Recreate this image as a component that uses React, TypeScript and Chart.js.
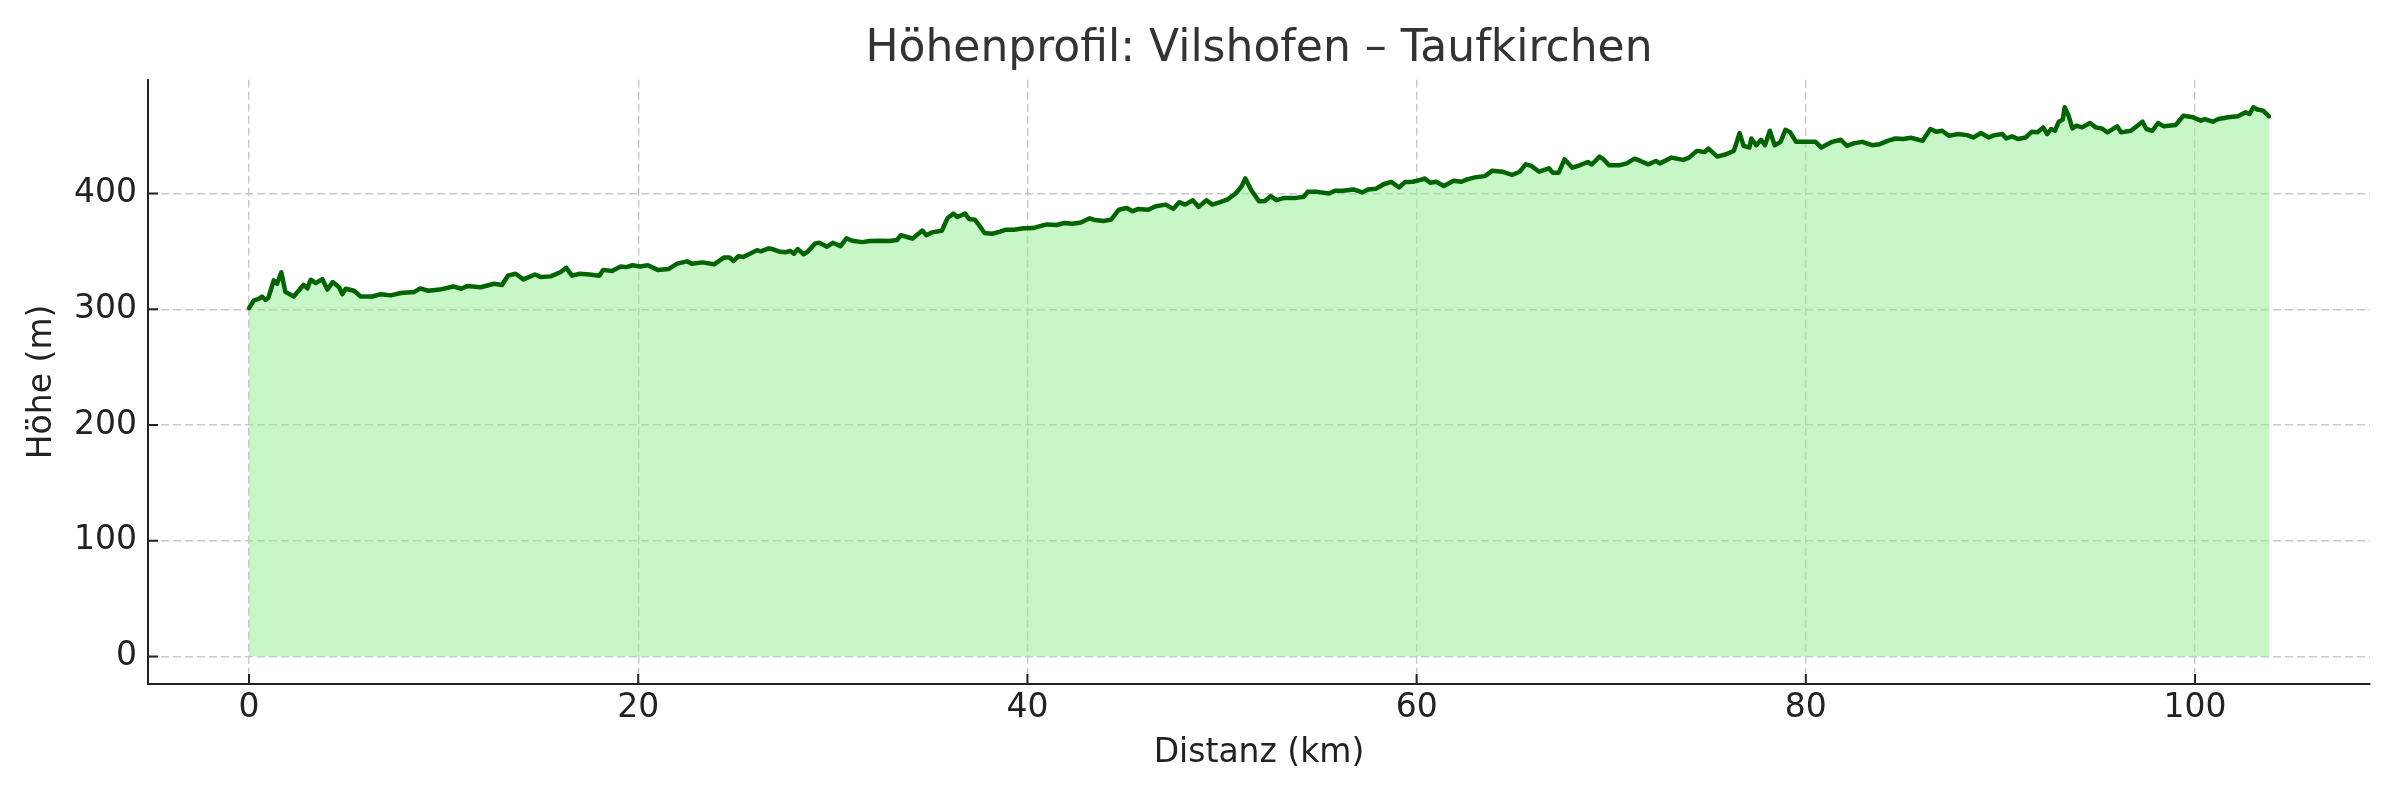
import React, { useEffect, useRef } from 'react';
import { Chart, registerables } from 'chart.js';

Chart.register(...registerables);

const chartTitle = 'Höhenprofil: Vilshofen – Taufkirchen';
const xLabel = 'Distanz (km)';
const yLabel = 'Höhe (m)';

// Distanz in km, Höhe in m
const distanceKm = [
  0, 0.24, 0.5, 0.67, 0.85, 1.0, 1.27, 1.44, 1.66, 1.87, 2.3, 2.8, 3.0, 3.17, 3.43, 3.77, 4.03, 4.3, 4.63, 4.8,
  4.97, 5.4, 5.74, 6.34, 6.77, 7.28, 7.8, 8.5, 8.8, 9.2, 9.8, 10.5, 10.9, 11.2, 11.9, 12.6, 13.0, 13.3, 13.7, 14.1,
  14.7, 15.0, 15.5, 16.0, 16.3, 16.6, 17.0, 17.5, 18.0, 18.2, 18.65, 19.1, 19.4, 19.7, 20.1, 20.5, 21.0, 21.55, 22.0, 22.5,
  22.75, 23.3, 23.9, 24.4, 24.7, 24.9, 25.15, 25.4, 26.1, 26.3, 26.7, 26.9, 27.3, 27.6, 27.8, 28.0, 28.2, 28.5, 28.7, 29.1,
  29.3, 29.7, 30.0, 30.4, 30.7, 31.0, 31.5, 31.9, 32.4, 32.9, 33.3, 33.5, 33.9, 34.1, 34.6, 34.8, 35.1, 35.6, 35.9, 36.2,
  36.4, 36.8, 37.0, 37.3, 37.5, 37.8, 38.2, 38.6, 38.9, 39.3, 39.8, 40.3, 40.6, 41.0, 41.5, 41.9, 42.3, 42.75, 43.2, 43.4,
  43.9, 44.3, 44.7, 45.1, 45.4, 45.7, 46.2, 46.6, 47.1, 47.5, 47.8, 48.1, 48.5, 48.8, 49.2, 49.5, 49.9, 50.3, 50.7, 51.0,
  51.2, 51.5, 51.9, 52.2, 52.5, 52.8, 53.2, 53.8, 54.2, 54.4, 54.9, 55.5, 55.8, 56.2, 56.75, 57.2, 57.5, 57.9, 58.3, 58.7,
  59.1, 59.4, 59.8, 60.3, 60.4, 60.7, 61.0, 61.4, 61.9, 62.3, 62.6, 63.0, 63.5, 63.9, 64.4, 64.9, 65.3, 65.6, 65.9, 66.3,
  66.8, 67.0, 67.3, 67.6, 68.0, 68.3, 68.8, 69.0, 69.4, 69.6, 69.9, 70.4, 70.8, 71.2, 71.5, 71.9, 72.3, 72.5, 73.1, 73.7,
  74.0, 74.4, 74.8, 75.0, 75.45, 75.9, 76.3, 76.6, 76.8, 77.1, 77.2, 77.45, 77.7, 77.9, 78.15, 78.4, 78.7, 78.95, 79.2, 79.5,
  80.0, 80.5, 80.8, 81.35, 81.8, 82.1, 82.5, 82.9, 83.4, 83.8, 84.2, 84.6, 85.0, 85.4, 86.0, 86.4, 86.7, 87.0, 87.35, 87.8,
  88.3, 88.6, 89.0, 89.4, 89.7, 90.1, 90.3, 90.6, 90.9, 91.3, 91.6, 91.9, 92.2, 92.4, 92.6, 92.8, 93.0, 93.2, 93.3, 93.5,
  93.7, 93.9, 94.2, 94.6, 94.9, 95.2, 95.5, 96.0, 96.2, 96.7, 97.0, 97.3, 97.5, 97.8, 98.1, 98.4, 99.0, 99.4, 99.9, 100.3,
  100.5, 100.9, 101.2, 101.7, 102.2, 102.6, 102.8, 103.0, 103.2, 103.5, 103.8,
];

const elevationM = [
  301, 307.5, 309, 311, 308, 310, 325, 322, 332, 315, 311, 321, 318, 325.5, 322.6, 326, 317, 323.5, 319, 313,
  317.7, 316, 311, 311, 313, 312, 314, 315, 318, 316, 317, 319.7, 317.7, 320, 319, 322, 321, 329, 330.7, 325.8,
  330, 327.8, 328.4, 332, 335.7, 329, 330.7, 330, 328.9, 334, 333, 337, 336.4, 338, 337, 338, 334, 334.7, 339.4, 341.4,
  339.4, 340.5, 338.8, 344.6, 344.6, 341.7, 345.8, 345.2, 351, 350, 352.5, 352, 349.6, 349.3, 350.4, 348, 352, 347.5, 349.6, 356.9,
  357.4, 354, 357.4, 354.5, 361.2, 359.2, 358, 358.9, 359.2, 358.9, 359.8, 364, 362, 361, 368, 364, 366.4, 367.8, 378.8, 382.6,
  379.7, 382.6, 378, 377.4, 373, 365.8, 365.2, 367, 368.7, 368.7, 369.9, 370.1, 371.6, 373.3, 372.8, 374.5, 373.9, 375, 378.6, 377.4,
  376.2, 377.4, 386, 387.5, 384.6, 386.7, 386, 389, 390.4, 386.7, 392.5, 390.4, 394.2, 388.4, 394.2, 390.4, 392.5, 395, 400, 406,
  413, 403, 393.3, 393.6, 397.7, 394.2, 396.2, 396.2, 397.1, 401.4, 401.4, 400, 402.3, 402.3, 403.5, 400.9, 403.5, 404, 408, 410,
  405.2, 409.9, 410.1, 412.2, 413, 409.3, 410.1, 406.4, 411, 410.1, 412.2, 413.9, 415, 419.7, 418.8, 416, 418.8, 425.2, 423.8, 418.8,
  421.7, 418, 418, 429.5, 422.3, 423.8, 427.2, 425, 431.9, 429.6, 424.3, 424.3, 426, 430.1, 428.1, 425.2, 428.1, 426, 431, 429,
  431, 436.8, 435.9, 438.8, 431.9, 433.9, 436.8, 452.2, 441.2, 439.7, 447.5, 441.7, 446.4, 441.7, 454.2, 441.7, 444.6, 455, 452.8, 444.6,
  444.6, 444.6, 439.7, 444.6, 446.4, 441.2, 443.5, 444.6, 441.7, 442.6, 445.5, 447.5, 447, 448.1, 445.5, 455.7, 453.3, 454.2, 449.9, 451.3,
  450.4, 448.4, 452.2, 448.4, 450.4, 451.3, 447.5, 449.3, 447, 448.4, 453.3, 452.8, 457.1, 451.3, 455.7, 454.2, 462, 463.8, 474.5, 467.2,
  456.2, 458.6, 457.1, 460.9, 457.1, 456.2, 452.8, 458, 452.8, 454.2, 458, 462, 455.7, 454.2, 460.9, 458, 459.1, 467.2, 465.8, 462.9,
  464.3, 462, 464.3, 465.8, 466.7, 470.1, 468.7, 474.5, 472.5, 471.6, 466.7,
];

const xTicks = [0, 20, 40, 60, 80, 100];
const yTicks = [0, 100, 200, 300, 400];
const xRange = [-5.19, 108.99];
const yRange = [-23.7, 498.2];

const FONT = 'DejaVu Sans';
const AXIS_COLOR = '#222222';

// matplotlib-style ticks pointing into the plot
const innerTicks = {
  id: 'innerTicks',
  afterDraw(chart: any) {
    const { ctx, chartArea, scales } = chart;
    ctx.save();
    ctx.strokeStyle = AXIS_COLOR;
    ctx.lineWidth = 2;
    ctx.beginPath();
    for (const v of xTicks) {
      const px = scales.x.getPixelForValue(v);
      ctx.moveTo(px, chartArea.bottom);
      ctx.lineTo(px, chartArea.bottom - 10);
    }
    for (const v of yTicks) {
      const py = scales.y.getPixelForValue(v);
      ctx.moveTo(chartArea.left, py);
      ctx.lineTo(chartArea.left + 10, py);
    }
    ctx.stroke();
    ctx.restore();
  },
};

function ElevationChart() {
  const canvasRef = useRef<HTMLCanvasElement>(null);

  useEffect(() => {
    const ctx = canvasRef.current!.getContext('2d');
    const chart = new Chart(ctx!, {
      type: 'line',
      data: {
        datasets: [
          {
            label: yLabel,
            data: distanceKm.map((d, i) => ({ x: d, y: elevationM[i] })),
            borderColor: '#006400',
            borderWidth: 4.5,
            borderJoinStyle: 'round',
            borderCapStyle: 'round',
            backgroundColor: 'rgba(144, 238, 144, 0.5)',
            fill: 'origin',
            pointRadius: 0,
            tension: 0,
          },
        ],
      },
      options: {
        animation: false,
        responsive: false,
        layout: { padding: { left: 0, right: 30, top: 0, bottom: 0 } },
        plugins: {
          legend: { display: false },
          tooltip: { enabled: false },
          title: {
            display: true,
            text: chartTitle,
            fullSize: false,
            color: '#333333',
            font: { family: FONT, size: 44, weight: 'normal' },
            padding: { top: 23, bottom: 4 },
          },
        },
        scales: {
          x: {
            type: 'linear',
            min: xRange[0],
            max: xRange[1],
            afterBuildTicks: (s: any) => {
              s.ticks = xTicks.map((v) => ({ value: v }));
            },
            afterFit: (s: any) => {
              s.height = 116;
            },
            grid: { color: '#c8c8c8', lineWidth: 1.4, drawTicks: false },
            border: { color: AXIS_COLOR, width: 2, dash: [8, 4] },
            ticks: { color: AXIS_COLOR, padding: 5, maxRotation: 0, font: { family: FONT, size: 33 } },
            title: {
              display: true,
              text: xLabel,
              color: AXIS_COLOR,
              font: { family: FONT, size: 33 },
              padding: { top: 0, bottom: 27 },
            },
          },
          y: {
            type: 'linear',
            min: yRange[0],
            max: yRange[1],
            afterBuildTicks: (s: any) => {
              s.ticks = yTicks.map((v) => ({ value: v }));
            },
            afterFit: (s: any) => {
              s.width = 148;
            },
            grid: { color: '#c8c8c8', lineWidth: 1.4, drawTicks: false },
            border: { color: AXIS_COLOR, width: 2, dash: [8, 4] },
            ticks: { color: AXIS_COLOR, padding: 11, font: { family: FONT, size: 33 } },
            title: {
              display: true,
              text: yLabel,
              color: AXIS_COLOR,
              font: { family: FONT, size: 33 },
              padding: { top: 23, bottom: 0 },
            },
          },
        },
      },
      plugins: [innerTicks],
    });

    return () => {
      chart.destroy();
    };
  }, []);

  return <canvas ref={canvasRef} width={2400} height={800} style={{ display: 'block' }}></canvas>;
}

export default function App() {
  return (
    <div style={{ position: 'fixed', left: 0, top: 0, width: 2400, height: 800, background: '#ffffff' }}>
      <ElevationChart />
    </div>
  );
}
